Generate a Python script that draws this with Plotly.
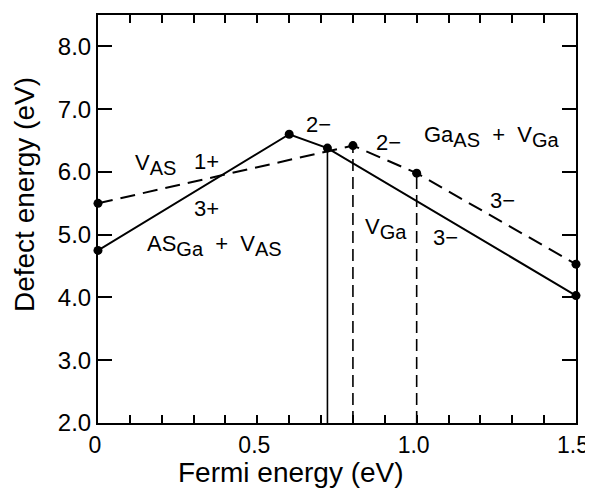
import plotly.graph_objects as go

# ---- data ----
fermi_solid = [0.0, 0.6, 0.72, 1.5]          # AS_Ga + V_AS  /  V_Ga branch
energy_solid = [4.75, 6.6, 6.38, 4.03]
fermi_dashed = [0.0, 0.8, 1.0, 1.5]          # V_AS  /  Ga_AS + V_Ga branch
energy_dashed = [5.5, 6.42, 5.98, 4.53]

y_min, y_max = 2.0, 8.5
x_min, x_max = 0.0, 1.5

x_tickvals = [0, 0.5, 1.0, 1.5]
x_ticktext = ["0", "0.5", "1.0", "1.5"]
x_minor_step = 0.1
y_tickvals = [2, 3, 4, 5, 6, 7, 8]
y_ticktext = ["2.0", "3.0", "4.0", "5.0", "6.0", "7.0", "8.0"]


def sub(s):
    return '<sub><span style="font-size:20px">' + s + '</span></sub>'


NB = "\u00a0"
label_text = ["V" + sub("AS"), "1+", "3+",
              "AS" + sub("Ga") + NB + NB + "+" + NB + NB + "V" + sub("AS"),
              "2−", "2−",
              "Ga" + sub("AS") + NB + NB + "+" + NB + NB + "V" + sub("Ga"),
              "3−", "V" + sub("Ga"), "3−"]
label_x = [0.18, 0.342, 0.342, 0.367, 0.693, 0.913, 1.236, 1.268, 0.904, 1.092]
label_y = [6.12, 6.16, 5.42, 4.83, 6.75, 6.47, 6.57, 5.55, 5.10, 4.96]

FONT = "Liberation Sans, Arial, Helvetica, sans-serif"
LW = 2

fig = go.Figure()

# vertical drop lines
fig.add_trace(go.Scatter(x=[fermi_solid[2], fermi_solid[2]], y=[y_min, energy_solid[2]],
                         mode="lines", line=dict(color="black", width=1.6),
                         hoverinfo="skip", showlegend=False))
for i in (1, 2):
    fig.add_trace(go.Scatter(x=[fermi_dashed[i], fermi_dashed[i]], y=[y_min, energy_dashed[i]],
                             mode="lines", line=dict(color="black", width=1.6, dash="12px,6px"),
                             hoverinfo="skip", showlegend=False))

# main curves
fig.add_trace(go.Scatter(x=fermi_dashed, y=energy_dashed, mode="lines+markers",
                         line=dict(color="black", width=LW, dash="15px,8px"),
                         marker=dict(color="black", size=9),
                         cliponaxis=False, showlegend=False))
fig.add_trace(go.Scatter(x=fermi_solid, y=energy_solid, mode="lines+markers",
                         line=dict(color="black", width=LW),
                         marker=dict(color="black", size=9),
                         cliponaxis=False, showlegend=False))

for t, x, y in zip(label_text, label_x, label_y):
    fig.add_annotation(x=x, y=y, text=t, showarrow=False,
                       font=dict(family=FONT, size=22, color="black"),
                       xanchor="center", yanchor="middle")

# axis titles
fig.add_annotation(xref="paper", yref="paper", x=0.404, y=-0.1225,
                   text="Fermi energy (eV)", showarrow=False,
                   font=dict(family=FONT, size=28, color="black"),
                   xanchor="center", yanchor="middle")
fig.add_annotation(xref="paper", yref="paper", x=-0.155, y=0.561,
                   text="Defect energy (eV)", showarrow=False, textangle=-90,
                   font=dict(family=FONT, size=28, color="black"),
                   xanchor="center", yanchor="middle")

fig.update_xaxes(range=[x_min, x_max], tickmode="array", tickvals=x_tickvals,
                 ticktext=x_ticktext, ticks="inside", ticklen=8, tickwidth=1.5,
                 tickcolor="black", ticklabeloverflow="allow", ticklabelshift=-3,
                 minor=dict(ticks="inside", dtick=x_minor_step, tick0=0, ticklen=8,
                            tickwidth=1.5, tickcolor="black", showgrid=False),
                 showline=True, linecolor="black", linewidth=LW,
                 mirror="ticks", showgrid=False, zeroline=False, automargin=False,
                 tickfont=dict(family=FONT, size=23, color="black"))
fig.update_yaxes(range=[y_min, y_max], tickmode="array", tickvals=y_tickvals,
                 ticktext=y_ticktext, ticks="inside", ticklen=14, tickwidth=1.5,
                 tickcolor="black", showline=True, linecolor="black", linewidth=LW,
                 mirror="ticks", showgrid=False, zeroline=False, automargin=False,
                 tickfont=dict(family=FONT, size=24, color="black"))

# the page body adds an 8px offset, so the figure is sized/margined to compensate
fig.update_layout(width=585, height=485,
                  margin=dict(l=90, r=17, t=7, b=70),
                  paper_bgcolor="white", plot_bgcolor="white",
                  showlegend=False)

fig.write_html("out.html")
